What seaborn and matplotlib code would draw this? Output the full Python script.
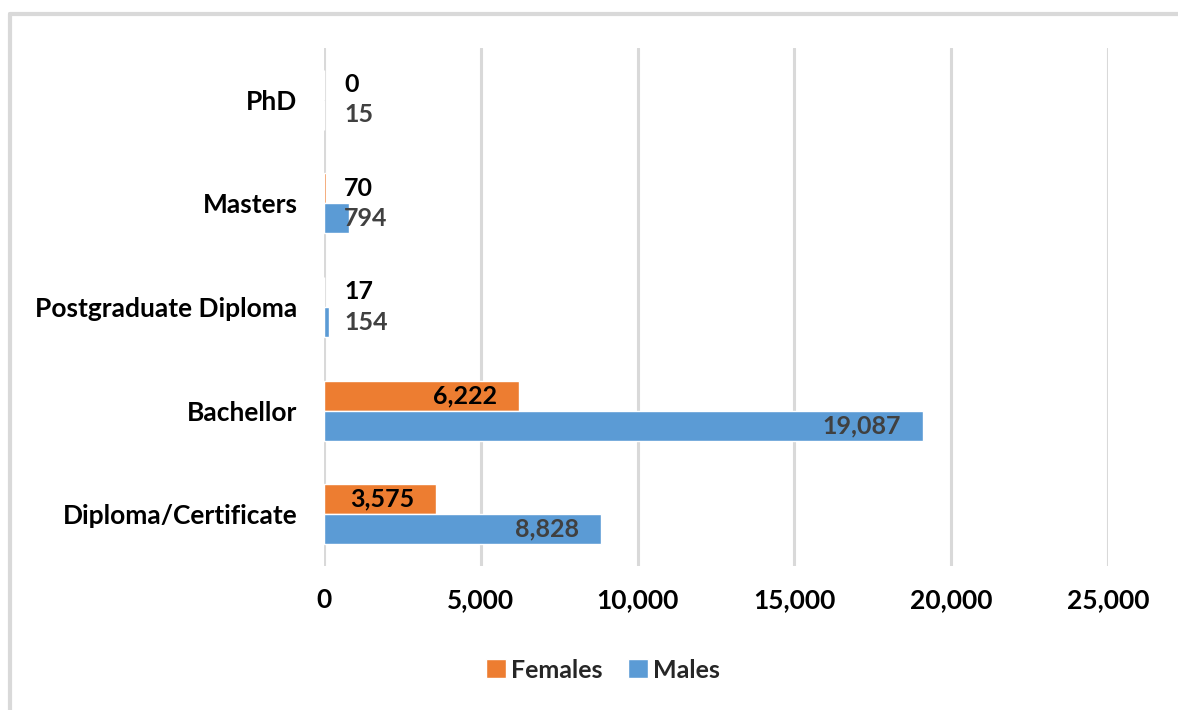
import numpy as np
import pandas as pd
import matplotlib
matplotlib.use('Agg')
import matplotlib.pyplot as plt
import seaborn as sns
from matplotlib.lines import Line2D
from matplotlib.patches import Patch

# ── Data ───────────────────────────────────────────────────────────────
levels = ['PhD', 'Masters', 'Postgraduate Diploma', 'Bachellor', 'Diploma/Certificate']
females = [0, 70, 17, 6222, 3575]
males = [15, 794, 154, 19087, 8828]
x_ticks = [0, 5000, 10000, 15000, 20000, 25000]

ORANGE = '#ED7D31'
BLUE = '#5B9BD5'
GRID = '#D9D9D9'
FS = 18

df = pd.DataFrame({
    'Level': levels * 2,
    'Count': females + males,
    'Sex': ['Females'] * len(levels) + ['Males'] * len(levels),
})

sns.set_theme(style='white')
plt.rcParams['font.family'] = ['Lato', 'DejaVu Sans']
plt.rcParams['font.weight'] = 'bold'

fig = plt.figure(figsize=(11.78, 7.10), dpi=100)
ax = fig.add_axes([0.275, 0.2028, 0.6656, 0.7296])

sns.barplot(data=df, y='Level', x='Count', hue='Sex', orient='h',
            order=levels, hue_order=['Females', 'Males'],
            palette=[ORANGE, BLUE], width=0.58, errorbar=None,
            saturation=1, legend=False, ax=ax)

ax.set_xlim(0, 25000)
ax.set_xticks(x_ticks)
ax.set_xticklabels([f'{t:,}' for t in x_ticks])
ax.set_xlabel('')
ax.set_ylabel('')
ax.xaxis.grid(True, color=GRID, linewidth=2.2)
ax.set_axisbelow(True)
for s in ax.spines.values():
    s.set_visible(False)
ax.tick_params(axis='x', length=0, pad=16, labelsize=19, labelcolor='black')
ax.tick_params(axis='y', length=0, pad=19, labelsize=19, labelcolor='black')

# value labels: inside end for long bars, just right of the axis for short ones
label_colors = ['black', '#404040']
for cont, vals, col in zip(ax.containers, [females, males], label_colors):
    for bar, v in zip(cont, vals):
        yc = bar.get_y() + bar.get_height() / 2
        if v > 2000:
            ax.annotate(f'{v:,}', xy=(v, yc), xytext=(-22, 0),
                        textcoords='offset pixels', ha='right', va='center',
                        fontsize=FS, color=col)
        else:
            ax.annotate(f'{v:,}', xy=(0, yc), xytext=(20, 0),
                        textcoords='offset pixels', ha='left', va='center',
                        fontsize=FS, color=col)

# legend
handles = [Patch(facecolor=ORANGE, label='Females'),
           Patch(facecolor=BLUE, label='Males')]
fig.legend(handles=handles, loc='center', bbox_to_anchor=(603 / 1178, 1 - 670 / 710),
           ncol=2, frameon=False, fontsize=FS, handlelength=0.8, handleheight=0.8,
           handletextpad=0.2, columnspacing=1.0)

# chart border (top and left edges visible)
yb = 1 - 14 / 710
xb = 10 / 1178
fig.add_artist(Line2D([xb, xb], [0, yb], transform=fig.transFigure, color=GRID, lw=3))
fig.add_artist(Line2D([xb, 1], [yb, yb], transform=fig.transFigure, color=GRID, lw=3))

fig.savefig('out.png', dpi=100)
